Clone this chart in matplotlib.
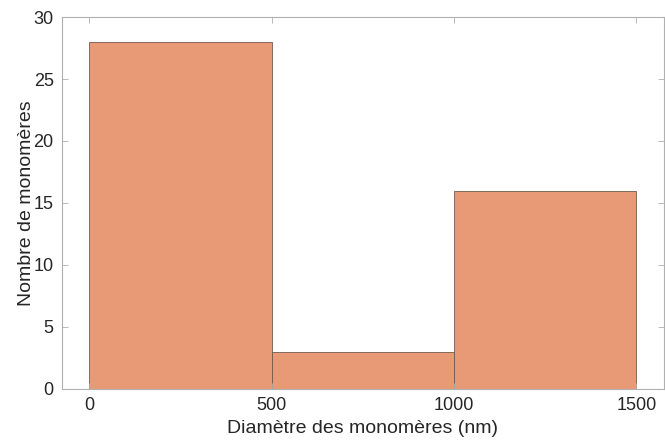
import matplotlib.pyplot as plt

bin_edges = [0, 500, 1000, 1500]
counts = [28, 3, 16]

plt.rcParams['font.family'] = ['Liberation Sans', 'DejaVu Sans']

fig = plt.figure(figsize=(6.65, 4.44), dpi=100)
ax = fig.add_axes([0.0932, 0.1239, 0.9048, 0.8378])

widths = [bin_edges[i + 1] - bin_edges[i] for i in range(len(counts))]
ax.bar(bin_edges[:-1], counts, width=widths, align='edge',
       color=(0.91, 0.60, 0.46), edgecolor=(0.45, 0.35, 0.30), linewidth=0.6)

ax.set_xlim(-75, 1575)
ax.set_ylim(0, 30)
ax.set_xticks([0, 500, 1000, 1500])
ax.set_yticks([0, 5, 10, 15, 20, 25, 30])
ax.tick_params(direction='in', length=4, width=0.6, color='#b0b0b0',
               labelsize=13, labelcolor='#262626', top=True, right=True,
               labeltop=False, labelright=False, pad=6)
for s in ax.spines.values():
    s.set_color('#b0b0b0')
    s.set_linewidth(0.8)

ax.set_xlabel('Diamètre des monomères (nm)', fontsize=14, color='#262626', labelpad=4)
ax.set_ylabel('Nombre de monomères', fontsize=14, color='#262626', labelpad=-1)

fig.savefig('out.png', dpi=100)
